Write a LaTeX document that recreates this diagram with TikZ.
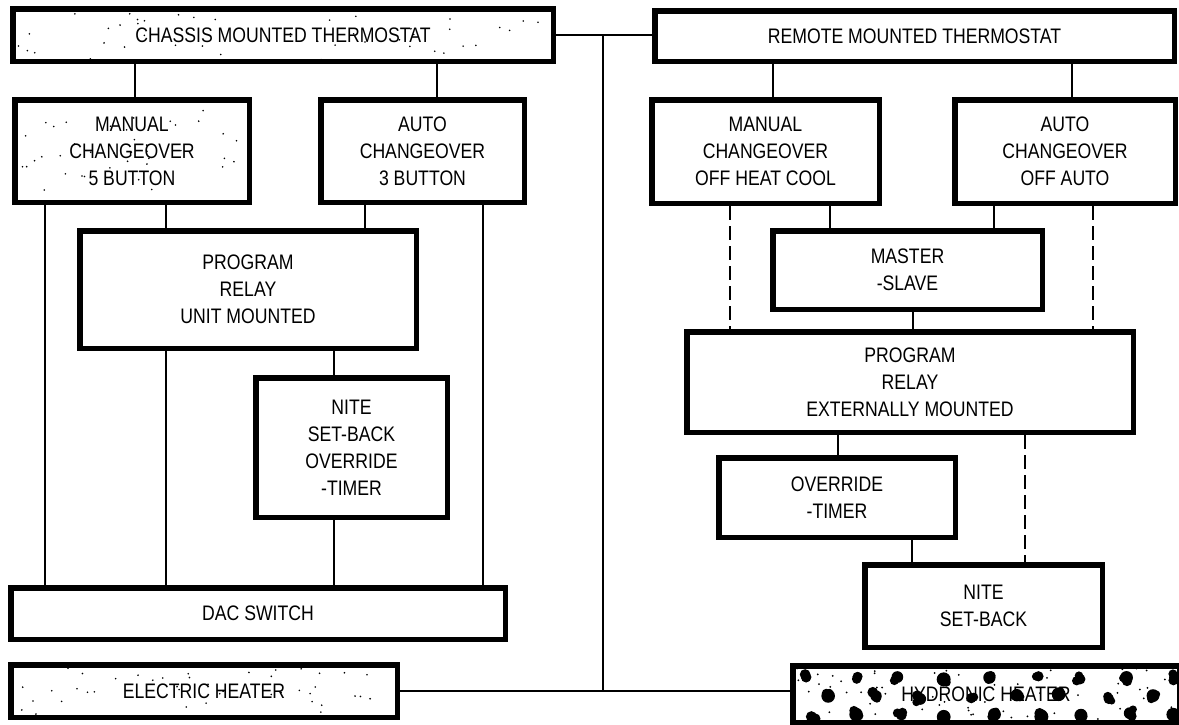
\documentclass[tikz,border=0pt]{standalone}
\usepackage{fontspec}
\setmainfont{Liberation Sans}[FakeStretch=0.84]
\usetikzlibrary{calc}
\begin{document}
\begin{tikzpicture}[x=1pt,y=-1pt,
  box/.style={draw, line width=5.5pt, fill=white, align=center, inner sep=0pt,
              font=\fontsize{21}{27}\selectfont},
  sz/.style 2 args={minimum width=#1-5.5pt, minimum height=#2-5.5pt},
  wire/.style={line width=1.6pt},
  dwire/.style={line width=1.6pt, dash pattern=on 14pt off 6pt},
  speck/.style={fill=black}]
\useasboundingbox (0,0) rectangle (1179,724);
\clip (0,0) rectangle (1179,724);

% ---------- boxes ----------
\node[box, sz={546pt}{58pt}] (chassis) at (283,35) {};
\node[box, sz={525pt}{56pt}] (remote) at (914.5,36) {REMOTE MOUNTED THERMOSTAT};
\node[box, sz={240pt}{108pt}] (man5) at (132,151) {};
\node[box, sz={209pt}{108pt}] (auto3) at (422.5,151) {AUTO\\CHANGEOVER\\3 BUTTON};
\node[box, sz={233pt}{109pt}] (manohc) at (765.5,151.5) {MANUAL\\CHANGEOVER\\OFF HEAT COOL};
\node[box, sz={226pt}{109pt}] (autooa) at (1065,151.5) {AUTO\\CHANGEOVER\\OFF AUTO};
\node[box, sz={342pt}{123pt}] (prog1) at (248,289.5) {PROGRAM\\RELAY\\UNIT MOUNTED};
\node[box, sz={197pt}{145pt}] (nite1) at (351.5,447.5) {NITE\\SET-BACK\\OVERRIDE\\-TIMER};
\node[box, sz={500pt}{57pt}] (oac) at (258,613.5) {DAC SWITCH};
\node[box, sz={392pt}{58pt}] (elec) at (204,691) {};
\node[box, sz={275pt}{84pt}] (master) at (907.5,270) {MASTER\\-SLAVE};
\node[box, sz={452pt}{106pt}] (prog2) at (910,382) {PROGRAM\\RELAY\\EXTERNALLY MOUNTED};
\node[box, sz={242pt}{85pt}] (override) at (837,497.5) {OVERRIDE\\-TIMER};
\node[box, sz={243pt}{88pt}] (nite2) at (983.5,606) {NITE\\SET-BACK};
\node[box, sz={392pt}{62pt}] (hydro) at (986,694) {};

% ---------- speckled fills ----------
\pgfmathsetseed{11}
\begin{scope}
  \clip ([shift={(3,-3)}]chassis.south west) rectangle ([shift={(-3,3)}]chassis.north east);
  \foreach \i in {1,...,55} {
    \fill[speck] ($(chassis.north west)+(rnd*546,rnd*58)$) circle (0.9pt);
  }
\end{scope}
\begin{scope}
  \clip ([shift={(3,-3)}]man5.south west) rectangle ([shift={(-3,3)}]man5.north east);
  \foreach \i in {1,...,50} {
    \fill[speck] ($(man5.north west)+(rnd*240,rnd*108)$) circle (0.9pt);
  }
\end{scope}
\begin{scope}
  \clip ([shift={(3,-3)}]elec.south west) rectangle ([shift={(-3,3)}]elec.north east);
  \foreach \i in {1,...,60} {
    \fill[speck] ($(elec.north west)+(rnd*392,rnd*58)$) circle (0.9pt);
  }
\end{scope}
% ---------- blotched fill of the hydronic heater ----------
\begin{scope}
  \clip ([shift={(3,-3)}]hydro.south west) rectangle ([shift={(-3,3)}]hydro.north east);
  \foreach \k in {0,...,8} {
    \foreach \dx/\dy in {14/13, 37/31, 14/50} {
      \coordinate (b) at ($(hydro.north west)+(\dx+\k*46+rnd*8,\dy+rnd*5)$);
      \fill (b) circle ({5+rnd*2});
      \fill ($(b)+(rnd*8-4,rnd*8-4)$) circle ({3.5+rnd*2});
      \fill ($(b)+(rnd*8-4,rnd*8-4)$) circle ({3.5+rnd*2});
    }
  }
  \foreach \i in {1,...,80} {
    \fill ($(hydro.north west)+(rnd*392,rnd*62)$) circle (1pt);
  }
\end{scope}

% ---------- texts of the textured boxes ----------
\node[font=\fontsize{21}{27}\selectfont] at (chassis) {CHASSIS MOUNTED THERMOSTAT};
\node[align=center, font=\fontsize{21}{27}\selectfont] at (man5) {MANUAL\\CHANGEOVER\\5 BUTTON};
\node[font=\fontsize{21}{27}\selectfont] at (elec) {ELECTRIC HEATER};
\node[font=\fontsize{21}{27}\selectfont] at (hydro) {HYDRONIC HEATER};

% ---------- column coordinates ----------
\coordinate (cA) at (135,0);  \coordinate (cB) at (437,0);
\coordinate (cC) at (773,0);  \coordinate (cD) at (1072,0);
\coordinate (cE) at (45,0);   \coordinate (cF) at (166,0);
\coordinate (cG) at (365,0);  \coordinate (cH) at (483,0);
\coordinate (cI) at (334,0);  \coordinate (cJ) at (730,0);
\coordinate (cK) at (830,0);  \coordinate (cL) at (994,0);
\coordinate (cM) at (1093,0); \coordinate (cN) at (913,0);
\coordinate (cO) at (838,0);  \coordinate (cP) at (1025,0);
\coordinate (cQ) at (912,0);  \coordinate (cR) at (603,0);

% ---------- connectors ----------
\draw[wire] (chassis.east) -- (chassis.east -| remote.west);
\draw[wire] (elec.east) -- (elec.east -| hydro.west);
\coordinate (jt) at (chassis.east -| cR);
\coordinate (jb) at (elec.east -| cR);
\draw[wire] (jt) -- (jb);

\draw[wire] (chassis.south -| cA) -- (man5.north -| cA);
\draw[wire] (chassis.south -| cB) -- (auto3.north -| cB);
\draw[wire] (remote.south -| cC) -- (manohc.north -| cC);
\draw[wire] (remote.south -| cD) -- (autooa.north -| cD);

\draw[wire] (man5.south -| cE) -- (oac.north -| cE);
\draw[wire] (man5.south -| cF) -- (prog1.north -| cF);
\draw[wire] (auto3.south -| cG) -- (prog1.north -| cG);
\draw[wire] (auto3.south -| cH) -- (oac.north -| cH);
\draw[wire] (prog1.south -| cF) -- (oac.north -| cF);
\draw[wire] (prog1.south -| cI) -- (nite1.north -| cI);
\draw[wire] (nite1.south -| cI) -- (oac.north -| cI);

\draw[dwire] (manohc.south -| cJ) -- (prog2.north -| cJ);
\draw[wire] (manohc.south -| cK) -- (master.north -| cK);
\draw[wire] (autooa.south -| cL) -- (master.north -| cL);
\draw[dwire] (autooa.south -| cM) -- (prog2.north -| cM);
\draw[wire] (master.south -| cN) -- (prog2.north -| cN);
\draw[wire] (prog2.south -| cO) -- (override.north -| cO);
\draw[dwire] (prog2.south -| cP) -- (nite2.north -| cP);
\draw[wire] (override.south -| cQ) -- (nite2.north -| cQ);
\end{tikzpicture}
\end{document}
